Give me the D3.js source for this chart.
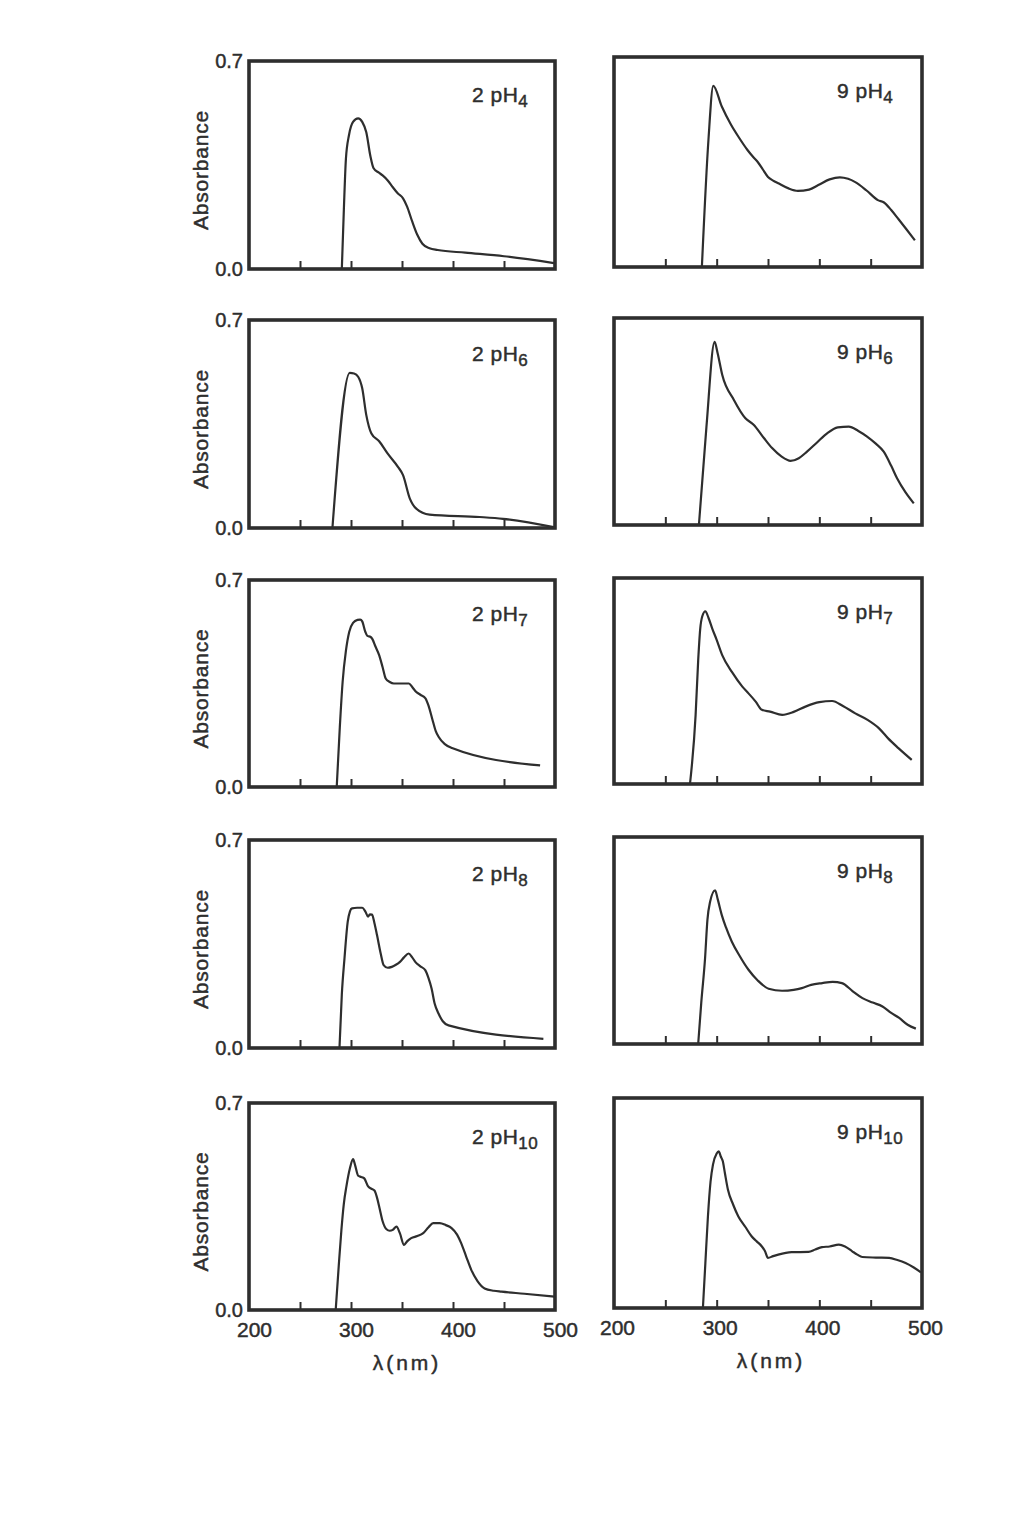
<!DOCTYPE html>
<html>
<head>
<meta charset="utf-8">
<script src="https://cdn.jsdelivr.net/npm/d3@7"></script>
<style>
  body { margin: 0; background: #fff; }
  svg { display: block; font-family: "Liberation Sans", Arial, sans-serif; }
  .ink-text { stroke: #2e2e2e; stroke-width: 0.45px; }
</style>
</head>
<body>
<div id="chart"></div>
<script>
// spectra: [wavelength nm, absorbance]
const s2pH4 = [[291,0],[293,0.2],[295,0.37],[298,0.45],[302,0.495],[307,0.507],[311,0.495],[315,0.46],[319,0.38],[322,0.34],[327,0.325],[331,0.315],[336,0.298],[341,0.275],[346,0.254],[351,0.238],[355,0.21],[360,0.16],[365,0.115],[370,0.085],[377,0.07],[385,0.064],[412,0.055],[450,0.043],[499,0.02]];
const s9pH4 = [[285.6,0],[292,0.424],[296.7,0.604],[305,0.535],[314,0.474],[322,0.43],[330,0.39],[336,0.365],[340,0.35],[345,0.325],[350,0.3],[355,0.288],[360,0.279],[370,0.262],[379,0.254],[390,0.258],[399,0.273],[410,0.292],[420,0.299],[428,0.294],[435,0.283],[446,0.255],[457,0.223],[463,0.215],[470,0.19],[477,0.16],[485,0.125],[493,0.089]];
const s2pH6 = [[281.8,0],[298.8,0.522],[303,0.52],[307,0.509],[311,0.47],[315,0.38],[320,0.318],[327.6,0.292],[336,0.25],[346,0.206],[351,0.178],[357.7,0.099],[364,0.065],[377,0.045],[426,0.037],[449,0.031],[500,0.002]];
const s9pH6 = [[282.7,0],[290,0.33],[298,0.619],[301,0.58],[305.4,0.508],[316.8,0.423],[328,0.361],[336,0.339],[346,0.294],[354,0.26],[363,0.232],[372,0.217],[380,0.226],[388,0.248],[398,0.28],[407.6,0.31],[418,0.33],[428.7,0.333],[438,0.318],[446.5,0.299],[455,0.275],[462.7,0.248],[470,0.2],[475.7,0.158],[484,0.11],[492,0.073]];
const s2pH7 = [[286,0],[289,0.2],[291.8,0.356],[295,0.46],[298.3,0.525],[302,0.555],[306.4,0.565],[309,0.566],[311,0.56],[314,0.525],[316,0.511],[319,0.508],[321,0.5],[324,0.475],[327.6,0.446],[331,0.405],[334,0.367],[338,0.355],[342,0.35],[350,0.35],[356.8,0.35],[360,0.338],[363,0.325],[368,0.312],[373,0.3],[376,0.275],[379.6,0.231],[383,0.19],[386,0.169],[392,0.145],[399,0.132],[485.4,0.073]];
const s9pH7 = [[274,0],[279.5,0.235],[282,0.42],[284,0.528],[286,0.57],[289,0.587],[292,0.565],[295.7,0.528],[300,0.49],[305.4,0.438],[315,0.38],[325,0.331],[331,0.308],[338,0.28],[344,0.252],[352,0.246],[363.8,0.235],[375,0.245],[386.5,0.263],[400,0.278],[412.5,0.282],[423,0.265],[435,0.24],[447,0.218],[457.9,0.19],[467,0.155],[477,0.122],[490,0.082]];
const s2pH8 = [[288.7,0],[291,0.18],[293.6,0.301],[296.8,0.425],[299,0.46],[301,0.47],[306,0.472],[311,0.472],[314,0.46],[316.7,0.442],[318.5,0.45],[320.6,0.449],[323,0.42],[325.5,0.38],[329,0.32],[332,0.279],[336,0.27],[340,0.273],[344,0.28],[348,0.29],[352,0.305],[356.5,0.318],[360,0.305],[363,0.29],[368,0.275],[372.8,0.262],[376,0.235],[379,0.2],[382,0.15],[385.8,0.116],[390,0.09],[395.6,0.076],[488.6,0.031]];
const s9pH8 = [[282,0],[285,0.14],[288.7,0.29],[291,0.42],[293.6,0.481],[298.5,0.52],[301,0.49],[305,0.436],[309,0.395],[314.8,0.346],[322,0.3],[331,0.251],[340,0.215],[350.6,0.187],[363.7,0.18],[375,0.183],[383,0.189],[392,0.2],[402.8,0.206],[413,0.21],[422,0.206],[432,0.18],[442,0.155],[452,0.14],[461.5,0.127],[470,0.105],[477.8,0.088],[486,0.065],[494,0.052]];
const s2pH10 = [[285,0],[288,0.15],[290.6,0.271],[293,0.36],[295.5,0.418],[299,0.48],[302,0.51],[304,0.49],[307,0.454],[310,0.45],[313,0.445],[316.8,0.418],[320,0.41],[323,0.404],[325.5,0.38],[328,0.344],[331,0.3],[334.8,0.273],[338,0.268],[341,0.271],[344.6,0.282],[347.9,0.26],[352,0.22],[355,0.232],[359,0.243],[365,0.25],[370.8,0.26],[376,0.28],[380.6,0.294],[387,0.294],[393,0.287],[398.6,0.277],[404,0.255],[408,0.226],[413,0.18],[418,0.135],[424,0.098],[431,0.073],[440,0.065],[447.6,0.062],[470,0.055],[500,0.045]];
const s9pH10 = [[286.6,0],[289,0.15],[291.5,0.306],[294,0.42],[296.4,0.478],[300,0.515],[302,0.522],[304,0.505],[306,0.489],[308,0.45],[311,0.394],[316,0.345],[321,0.306],[328,0.27],[334,0.239],[339,0.222],[343.8,0.206],[347,0.19],[350,0.167],[355,0.173],[360,0.178],[373,0.186],[389.5,0.187],[396,0.195],[402.6,0.203],[410,0.205],[419,0.211],[425,0.205],[432,0.189],[437,0.178],[441.8,0.17],[455,0.168],[468,0.167],[476,0.16],[484,0.15],[492,0.135],[499,0.119]];

const dyes = ["2", "9"];
const phValues = ["4", "6", "7", "8", "10"];
const seriesRows = [[s2pH4, s9pH4], [s2pH6, s9pH6], [s2pH7, s9pH7], [s2pH8, s9pH8], [s2pH10, s9pH10]];
const xDomain = [200, 500];
const yDomain = [0, 0.7];
const xLabelTicks = [200, 300, 400, 500];
const xInnerTicks = [250, 300, 350, 400, 450];
const yLabelTicks = [0, 0.7];

// frame positions (scan is a little skewed so each panel gets its own box)
const colLeft = [249, 614];
const colRight = [555, 922];
const rowTops = [[61, 57], [320, 318], [580, 578], [840, 837], [1103, 1098]];
const rowBottoms = [[269, 267], [528, 525], [787, 784], [1048, 1044], [1310, 1308]];
const tickLabelShift = [5, 3];

const ink = "#2e2e2e";

const svg = d3.select("#chart").append("svg")
  .attr("width", 1028)
  .attr("height", 1517);

svg.append("rect").attr("width", 1028).attr("height", 1517).attr("fill", "#fff");

seriesRows.forEach(function(row, r) {
  row.forEach(function(data, c) {
    const left = colLeft[c], right = colRight[c];
    const top = rowTops[r][c], bottom = rowBottoms[r][c];
    const x = d3.scaleLinear().domain(xDomain).range([left, right]);
    const y = d3.scaleLinear().domain(yDomain).range([bottom, top]);
    const g = svg.append("g").attr("class", "panel");

    // inner ticks along the bottom
    const ticks = g.append("g")
      .attr("transform", `translate(0,${bottom})`)
      .call(d3.axisBottom(x).tickValues(xInnerTicks).tickSize(-8).tickFormat(""));
    ticks.select(".domain").remove();
    ticks.selectAll("line").attr("stroke", ink).attr("stroke-width", 2);

    // spectrum
    const line = d3.line()
      .x(function(d) { return x(d[0]); })
      .y(function(d) { return y(d[1]); })
      .curve(d3.curveMonotoneX);
    g.append("path")
      .datum(data)
      .attr("d", line)
      .attr("fill", "none")
      .attr("stroke", ink)
      .attr("stroke-width", 2.2)
      .attr("stroke-linejoin", "round");

    // frame
    g.append("rect")
      .attr("x", left).attr("y", top)
      .attr("width", right - left).attr("height", bottom - top)
      .attr("fill", "none")
      .attr("stroke", ink)
      .attr("stroke-width", 3.6);

    // panel label e.g. 2 pH4
    const lab = g.append("text")
      .attr("class", "ink-text")
      .attr("x", left + 223)
      .attr("y", top + 41)
      .attr("fill", ink)
      .attr("font-size", 21)
      .attr("letter-spacing", 0.5);
    lab.append("tspan").text(dyes[c] + " pH");
    lab.append("tspan").attr("font-size", 17).attr("dy", 5).text(phValues[r]);

    if (c === 0) {
      const yAx = g.append("g")
        .attr("transform", `translate(${left},0)`)
        .call(d3.axisLeft(y).tickValues(yLabelTicks).tickSize(0).tickPadding(6).tickFormat(d3.format(".1f")));
      yAx.select(".domain").remove();
      yAx.selectAll("text")
        .attr("class", "ink-text")
        .attr("font-size", 20)
        .attr("font-family", "Liberation Sans, Arial, sans-serif")
        .attr("fill", ink);

      g.append("text")
        .attr("class", "ink-text")
        .attr("transform", `translate(${left - 41},${(top + bottom) / 2 + 5}) rotate(-90)`)
        .attr("text-anchor", "middle")
        .attr("fill", ink)
        .attr("font-size", 21)
        .attr("letter-spacing", 0.8)
        .text("Absorbance");
    }

    if (r === seriesRows.length - 1) {
      const xAx = g.append("g")
        .attr("transform", `translate(${tickLabelShift[c]},${bottom})`)
        .call(d3.axisBottom(x).tickValues(xLabelTicks).tickSize(0).tickPadding(12).tickFormat(d3.format("d")));
      xAx.select(".domain").remove();
      xAx.selectAll("text")
        .attr("class", "ink-text")
        .attr("font-size", 21)
        .attr("font-family", "Liberation Sans, Arial, sans-serif")
        .attr("fill", ink);

      g.append("text")
        .attr("class", "ink-text")
        .attr("x", (left + right) / 2 + tickLabelShift[c])
        .attr("y", bottom + 60)
        .attr("text-anchor", "middle")
        .attr("fill", ink)
        .attr("font-size", 21)
        .attr("letter-spacing", 3)
        .text("λ(nm)");
    }
  });
});
</script>
</body>
</html>
